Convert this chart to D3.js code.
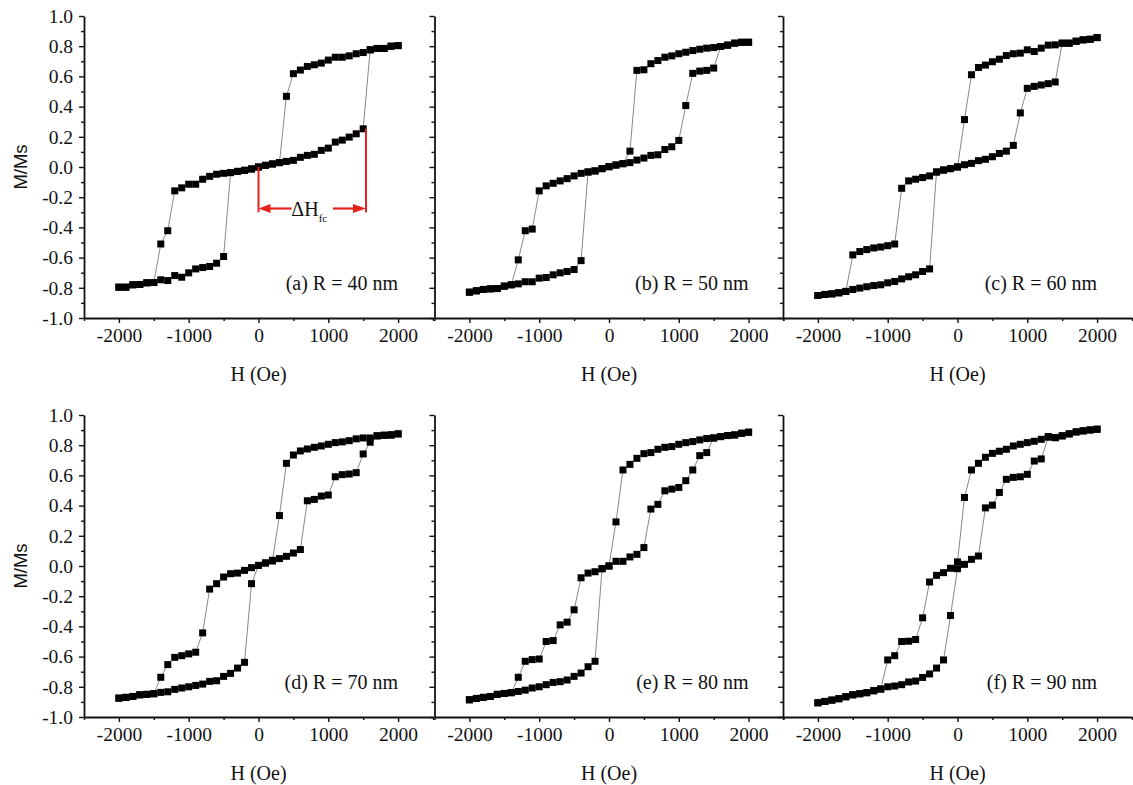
<!DOCTYPE html>
<html>
<head>
<meta charset="utf-8">
<script src="https://cdn.jsdelivr.net/npm/d3@7"></script>
<style>
  body { margin: 0; background: #fff; }
  svg text { font-family: "Liberation Serif", "Times New Roman", serif; fill: #111; }
</style>
</head>
<body>
<svg width="1133" height="785"></svg>
<script>
// field values (Oe), one point every 100 Oe
var H = [-2000,-1900,-1800,-1700,-1600,-1500,-1400,-1300,-1200,-1100,-1000,-900,-800,-700,-600,-500,-400,-300,-200,-100,
         0,100,200,300,400,500,600,700,800,900,1000,1100,1200,1300,1400,1500,1600,1700,1800,1900,2000];

var panelNames = ['(a) R = 40 nm', '(b) R = 50 nm', '(c) R = 60 nm',
                  '(d) R = 70 nm', '(e) R = 80 nm', '(f) R = 90 nm'];

// M/Ms, increasing field branch and decreasing field branch (both listed by H)
var ascA = [-0.796,-0.796,-0.780,-0.778,-0.767,-0.765,-0.747,-0.752,-0.719,-0.730,-0.701,-0.675,-0.666,-0.659,-0.637,-0.593,
            -0.037,-0.029,-0.022,-0.013,0.000,0.011,0.020,0.029,0.037,0.044,0.064,0.077,0.084,0.110,0.125,0.165,0.178,0.198,0.220,0.253,
            0.776,0.785,0.785,0.800,0.804];
var descA = [-0.796,-0.796,-0.780,-0.778,-0.767,-0.765,-0.510,-0.422,-0.158,-0.138,-0.114,-0.114,-0.081,-0.062,-0.048,-0.042,
             -0.037,-0.029,-0.022,-0.013,0.000,0.011,0.020,0.029,
             0.468,0.618,0.642,0.666,0.677,0.688,0.708,0.727,0.727,0.736,0.750,0.758,0.776,0.785,0.785,0.800,0.804];

var ascB = [-0.829,-0.820,-0.811,-0.807,-0.805,-0.789,-0.780,-0.774,-0.760,-0.760,-0.736,-0.732,-0.714,-0.701,-0.692,-0.679,-0.620,
            -0.033,-0.026,-0.011,0.002,0.013,0.022,0.029,0.046,0.059,0.077,0.081,0.116,0.134,0.176,
            0.407,0.620,0.635,0.640,0.655,0.798,0.807,0.820,0.826,0.826];
var descB = [-0.829,-0.820,-0.811,-0.807,-0.805,-0.789,-0.780,
             -0.615,-0.422,-0.411,-0.158,-0.125,-0.108,-0.092,-0.077,-0.059,-0.042,
             -0.033,-0.026,-0.011,0.002,0.013,0.022,0.105,
             0.640,0.644,0.684,0.705,0.727,0.736,0.750,0.760,0.771,0.780,0.787,0.791,0.798,0.807,0.820,0.826,0.826];

var ascC = [-0.851,-0.844,-0.840,-0.833,-0.824,-0.811,-0.802,-0.793,-0.785,-0.780,-0.767,-0.758,-0.741,-0.727,-0.714,-0.692,-0.675,
            -0.033,-0.020,-0.011,0.000,0.015,0.024,0.042,0.051,0.068,0.090,0.105,0.143,
            0.358,0.521,0.534,0.543,0.552,0.563,0.820,0.820,0.833,0.842,0.846,0.857];
var descC = [-0.851,-0.844,-0.840,-0.833,-0.824,
             -0.582,-0.560,-0.547,-0.536,-0.530,-0.521,-0.510,
             -0.141,-0.092,-0.081,-0.070,-0.059,-0.033,-0.020,-0.011,0.000,
             0.314,0.611,0.659,0.675,0.697,0.714,0.738,0.750,0.754,0.776,0.765,0.787,0.807,0.809,0.820,0.820,0.833,0.842,0.846,0.857];

var ascD = [-0.875,-0.870,-0.864,-0.853,-0.850,-0.846,-0.837,-0.833,-0.817,-0.808,-0.800,-0.791,-0.782,-0.764,-0.760,-0.731,-0.711,-0.676,-0.638,
            -0.117,0.004,0.020,0.033,0.049,0.064,0.086,0.109,
            0.432,0.441,0.463,0.470,0.591,0.605,0.609,0.618,0.742,0.820,0.862,0.866,0.866,0.875];
var descD = [-0.875,-0.870,-0.864,-0.853,-0.850,-0.846,
             -0.737,-0.653,-0.605,-0.594,-0.582,-0.571,-0.443,
             -0.153,-0.117,-0.073,-0.051,-0.047,-0.029,-0.011,0.004,0.020,0.038,
             0.334,0.680,0.735,0.762,0.775,0.786,0.795,0.806,0.817,0.822,0.830,0.842,0.848,0.848,0.862,0.866,0.870,0.875];

var ascE = [-0.886,-0.877,-0.870,-0.864,-0.850,-0.844,-0.839,-0.831,-0.822,-0.808,-0.800,-0.786,-0.771,-0.766,-0.755,-0.731,-0.709,-0.667,-0.631,
            -0.018,0.000,0.031,0.031,0.060,0.077,0.122,
            0.377,0.408,0.498,0.509,0.520,0.565,0.636,0.731,0.751,0.848,0.857,0.864,0.868,0.879,0.886];
var descE = [-0.886,-0.877,-0.870,-0.864,-0.850,-0.844,-0.839,
             -0.737,-0.631,-0.620,-0.616,-0.500,-0.494,-0.390,-0.372,-0.290,
             -0.078,-0.047,-0.038,-0.018,0.000,
             0.292,0.636,0.673,0.713,0.744,0.751,0.773,0.786,0.791,0.806,0.817,0.824,0.835,0.844,0.848,0.857,0.864,0.868,0.879,0.886];

var ascF = [-0.906,-0.897,-0.888,-0.879,-0.866,-0.853,-0.846,-0.839,-0.826,-0.815,-0.800,-0.795,-0.786,-0.768,-0.762,-0.738,-0.715,-0.676,-0.622,
            -0.328,-0.018,0.011,0.044,0.066,
            0.385,0.403,0.487,0.574,0.587,0.591,0.607,0.695,0.709,0.853,0.850,0.862,0.875,0.888,0.895,0.901,0.906];
var descF = [-0.906,-0.897,-0.888,-0.879,-0.866,-0.853,-0.846,-0.839,-0.826,-0.815,
             -0.622,-0.594,-0.500,-0.498,-0.487,-0.343,
             -0.106,-0.062,-0.044,-0.015,0.027,
             0.454,0.636,0.680,0.720,0.746,0.760,0.773,0.795,0.806,0.817,0.826,0.839,0.857,0.850,0.862,0.875,0.888,0.895,0.901,0.906];

var xMajor = [-2000,-1000,0,1000,2000],
    xMinor = [-2500,-1500,-500,500,1500,2500],
    yMajor = [-1,-0.8,-0.6,-0.4,-0.2,0,0.2,0.4,0.6,0.8,1],
    yMinor = [-0.9,-0.7,-0.5,-0.3,-0.1,0.1,0.3,0.5,0.7,0.9];

var panels = [
  {name: panelNames[0], asc: ascA, desc: descA},
  {name: panelNames[1], asc: ascB, desc: descB},
  {name: panelNames[2], asc: ascC, desc: descC},
  {name: panelNames[3], asc: ascD, desc: descD},
  {name: panelNames[4], asc: ascE, desc: descE},
  {name: panelNames[5], asc: ascF, desc: descF}
];

var svg = d3.select('svg'),
    pw = 349, ph = 302,
    lefts = [84, 434.5, 783],
    tops = [16, 415],
    serif = '"Liberation Serif", "Times New Roman", serif',
    fs = '19.5px',
    red = '#e3231c';

var x = d3.scaleLinear().domain([-2500, 2500]).range([0, pw]),
    y = d3.scaleLinear().domain([-1, 1]).range([ph, 0]);

var line = d3.line()
    .x(function(d){ return x(d[0]); })
    .y(function(d){ return y(d[1]); });

function styleAxis(a) {
  a.attr('font-family', serif).attr('font-size', null);
  a.selectAll('.domain').attr('stroke', '#111').attr('stroke-width', 1.8);
  a.selectAll('.tick line').attr('stroke', '#111').attr('stroke-width', 1.4);
  a.selectAll('text')
    .attr('font-family', serif)
    .style('font-size', fs)
    .attr('fill', '#111');
}

panels.forEach(function(p, i){
  var col = i % 3, row = Math.floor(i / 3);
  var g = svg.append('g')
      .attr('transform', 'translate(' + lefts[col] + ',' + tops[row] + ')');

  // minor ticks
  g.append('g').attr('transform', 'translate(0,' + ph + ')')
      .call(d3.axisBottom(x).tickValues(xMinor).tickSize(3).tickFormat(''))
      .call(function(a){ a.select('.domain').remove(); styleAxis(a); });
  g.append('g')
      .call(d3.axisLeft(y).tickValues(yMinor).tickSize(3).tickFormat(''))
      .call(function(a){ a.select('.domain').remove(); styleAxis(a); });

  // major axes
  g.append('g').attr('transform', 'translate(0,' + ph + ')')
      .call(d3.axisBottom(x).tickValues(xMajor).tickSize(5).tickSizeOuter(0).tickPadding(5)
            .tickFormat(function(d){ return String(d); }))
      .call(styleAxis);
  g.append('g')
      .call(d3.axisLeft(y).tickValues(yMajor).tickSize(5).tickSizeOuter(0).tickPadding(6)
            .tickFormat(function(d){ return col === 0 ? d.toFixed(1) : ''; }))
      .call(styleAxis);

  var branches = [p.desc, p.asc].map(function(vals){
    return H.map(function(h, k){ return [h, vals[k]]; });
  });

  g.selectAll('path.loop')
    .data(branches)
    .enter()
    .append('path')
    .attr('class', 'loop')
    .attr('d', line)
    .attr('fill', 'none')
    .attr('stroke', '#7a7a7a')
    .attr('stroke-width', 0.9);

  branches.forEach(function(b){
    g.append('g').selectAll('rect')
      .data(b)
      .enter()
      .append('rect')
      .attr('x', function(d){ return x(d[0]) - 3.5; })
      .attr('y', function(d){ return y(d[1]) - 3.5; })
      .attr('width', 7)
      .attr('height', 7)
      .attr('fill', '#000');
  });

  g.append('text')
    .attr('x', 314)
    .attr('y', ph - 28)
    .attr('text-anchor', 'end')
    .style('font-size', '20px')
    .text(p.name);

  g.append('text')
    .attr('x', pw / 2)
    .attr('y', ph + 63)
    .attr('text-anchor', 'middle')
    .style('font-size', '20px')
    .text('H (Oe)');

  if (col === 0) {
    g.append('text')
      .attr('transform', 'translate(' + (-63) + ',' + (ph / 2) + ') rotate(-90)')
      .attr('text-anchor', 'middle')
      .attr('dy', '0.35em')
      .style('font-family', '"Liberation Sans", Arial, sans-serif')
      .style('font-size', '18.5px')
      .text('M/Ms');
  }

  // ΔHfc marker on the first panel
  if (i === 0) {
    var hL = 0, hR = 1540, mArrow = -0.275, mBottom = -0.3;
    var ann = g.append('g').attr('class', 'annotation');
    ann.append('line')
      .attr('x1', x(hL)).attr('x2', x(hL))
      .attr('y1', y(0)).attr('y2', y(mBottom))
      .attr('stroke', red).attr('stroke-width', 2);
    ann.append('line')
      .attr('x1', x(hR)).attr('x2', x(hR))
      .attr('y1', y(ascA[H.indexOf(1500)])).attr('y2', y(mBottom))
      .attr('stroke', red).attr('stroke-width', 2);
    ann.append('line')
      .attr('x1', x(hL) + 8).attr('x2', x(hL) + 33)
      .attr('y1', y(mArrow)).attr('y2', y(mArrow))
      .attr('stroke', red).attr('stroke-width', 2.2);
    ann.append('line')
      .attr('x1', x(hR) - 33).attr('x2', x(hR) - 8)
      .attr('y1', y(mArrow)).attr('y2', y(mArrow))
      .attr('stroke', red).attr('stroke-width', 2.2);
    var ya = y(mArrow);
    ann.append('path')
      .attr('d', 'M' + x(hL) + ',' + ya + 'l12,-4.5l0,9z')
      .attr('fill', red);
    ann.append('path')
      .attr('d', 'M' + x(hR) + ',' + ya + 'l-13,-4.5l0,9z')
      .attr('fill', red);
    var t = ann.append('text')
      .attr('x', x((hL + hR) / 2) - 3)
      .attr('y', ya + 7)
      .attr('text-anchor', 'middle')
      .style('font-size', '20px');
    t.append('tspan').text('ΔH');
    t.append('tspan').attr('dy', 6).style('font-size', '11px').text('fc');
  }
});
</script>
</body>
</html>
